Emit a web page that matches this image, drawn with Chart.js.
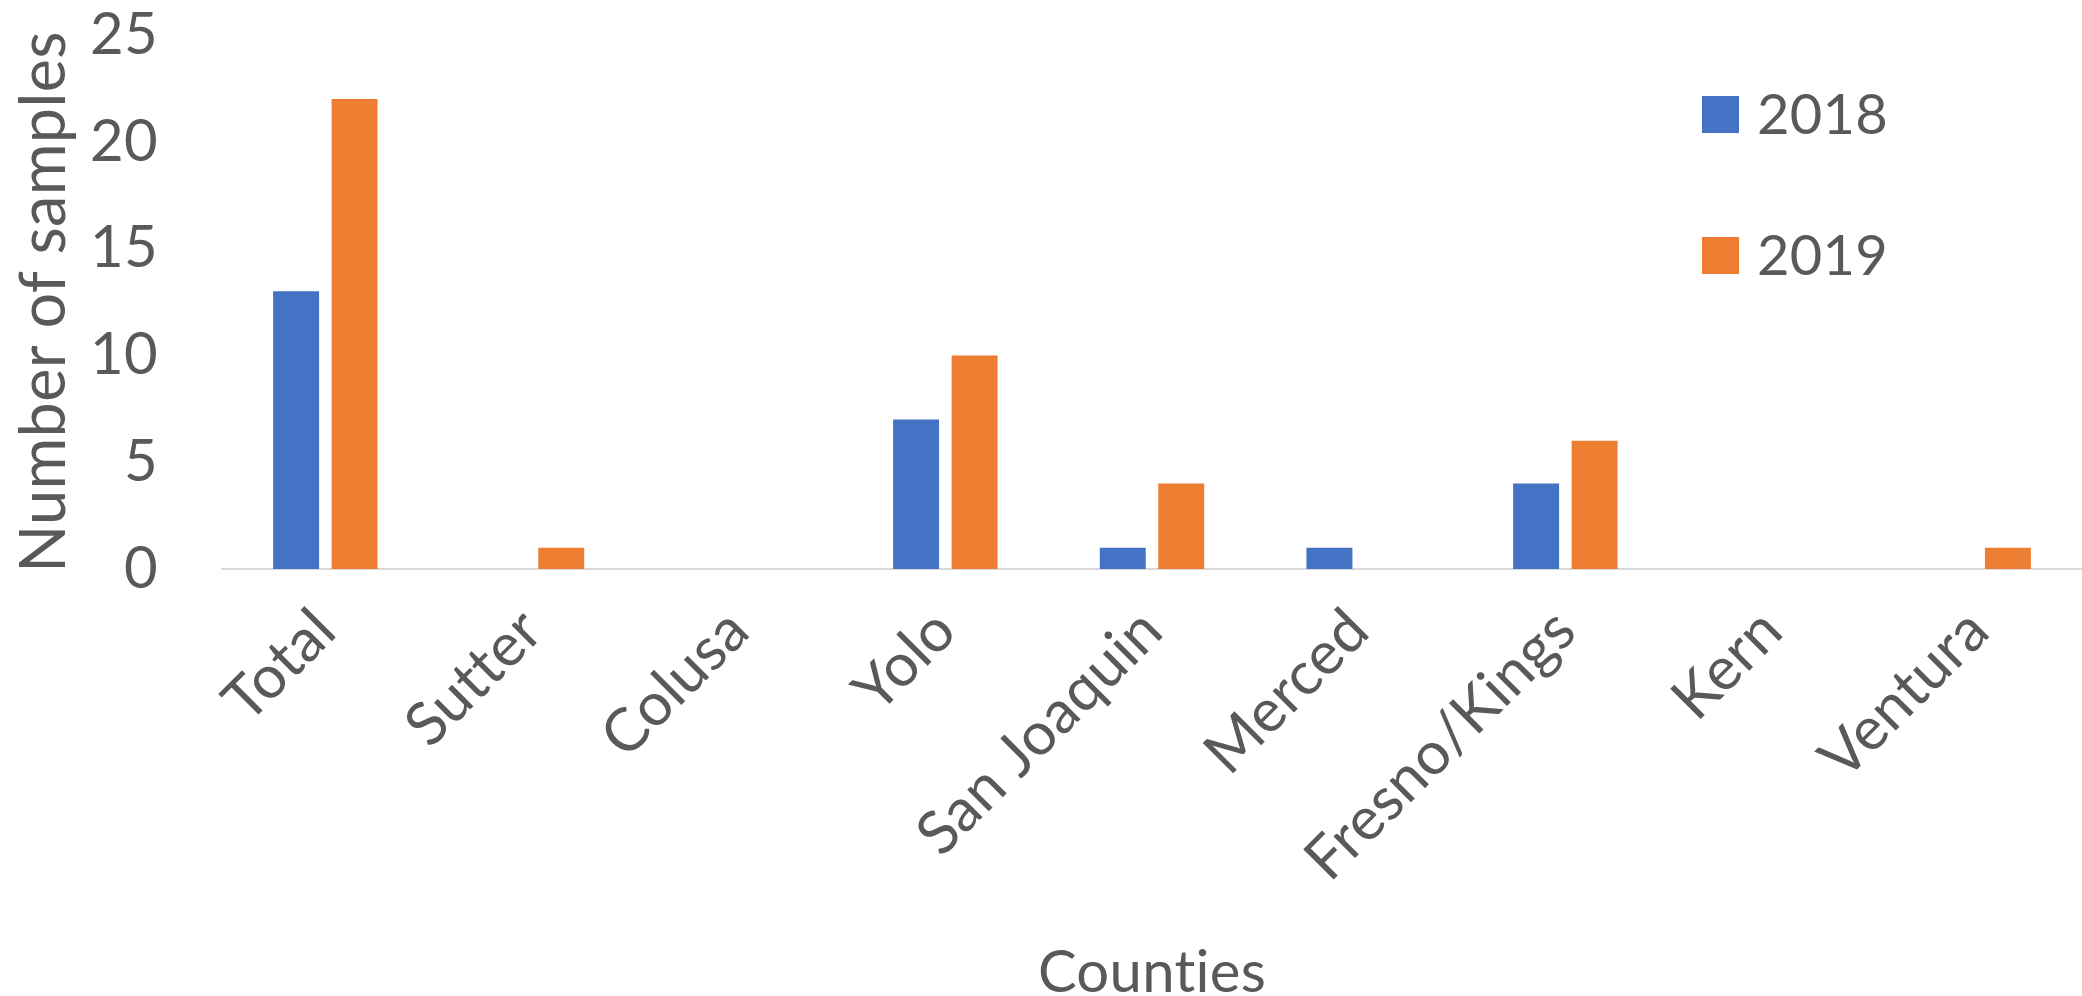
<!DOCTYPE html>
<html>
<head>
<meta charset="utf-8">
<script src="https://cdn.jsdelivr.net/npm/chart.js@4/dist/chart.umd.min.js"></script>
<style>
  html, body { margin: 0; padding: 0; background: #fff; }
  #wrap { width: 2082px; height: 996px; }
</style>
</head>
<body>
<div id="wrap"><canvas id="chart" width="2082" height="996"></canvas></div>
<script>
// Datos
const counties = ['Total', 'Sutter', 'Colusa', 'Yolo', 'San Joaquin', 'Merced', 'Fresno/Kings', 'Kern', 'Ventura'];
const samples2018 = [13, 0, 0, 7, 1, 1, 4, 0, 0];
const samples2019 = [22, 1, 0, 10, 4, 0, 6, 0, 1];
const yTicks = [0, 5, 10, 15, 20, 25];

const textColor = '#595959';
const fontFamily = 'Lato, "Open Sans", sans-serif';

// Evitar ligaduras (p. ej. "ti") con un espaciado mínimo
const noLigatures = {
    id: 'noLigatures',
    beforeDraw(chart) {
        if ('letterSpacing' in chart.ctx) chart.ctx.letterSpacing = '0.3px';
    }
};

// Leyenda dibujada dentro del área del gráfico (arriba a la derecha)
const insideLegend = {
    id: 'insideLegend',
    afterDraw(chart) {
        const ctx = chart.ctx;
        const rows = [114, 255];
        ctx.save();
        ctx.font = '56px ' + fontFamily;
        ctx.textBaseline = 'middle';
        ctx.textAlign = 'left';
        chart.data.datasets.forEach((ds, i) => {
            ctx.fillStyle = ds.backgroundColor;
            ctx.fillRect(1702, rows[i] - 18, 37, 37);
            ctx.fillStyle = textColor;
            ctx.fillText(ds.label, 1757, rows[i] + 2);
        });
        ctx.restore();
    }
};

new Chart(document.getElementById('chart').getContext('2d'), {
    type: 'bar',
    data: {
        labels: counties,
        datasets: [
            { label: '2018', data: samples2018, backgroundColor: '#4472C4' },
            { label: '2019', data: samples2019, backgroundColor: '#ED7D31' }
        ]
    },
    options: {
        responsive: false,
        animation: false,
        layout: { padding: { top: 35, right: 0, bottom: 0, left: 0 } },
        datasets: {
            bar: { categoryPercentage: 0.566, barPercentage: 0.786 }
        },
        plugins: {
            legend: { display: false },
            tooltip: { enabled: false }
        },
        scales: {
            x: {
                grid: { display: false, drawTicks: false },
                border: { display: true, color: '#D9D9D9', width: 2 },
                ticks: {
                    color: textColor,
                    font: { family: fontFamily, size: 60 },
                    maxRotation: 45,
                    minRotation: 45,
                    padding: 26,
                    autoSkip: false
                },
                title: {
                    display: true,
                    text: 'Counties',
                    color: textColor,
                    font: { family: fontFamily, size: 58, lineHeight: 1 },
                    padding: { top: 0, bottom: -6 }
                },
                afterFit(scale) {
                    scale.height = 427;
                    scale.paddingLeft = 0;
                    scale.paddingRight = 0;
                }
            },
            y: {
                min: 0,
                max: 25,
                grid: { display: false, drawTicks: false },
                border: { display: false },
                afterBuildTicks(scale) { scale.ticks = yTicks.map(v => ({ value: v })); },
                ticks: {
                    color: textColor,
                    font: { family: fontFamily, size: 58 },
                    padding: 64
                },
                title: {
                    display: true,
                    text: 'Number of samples',
                    color: textColor,
                    font: { family: fontFamily, size: 63, lineHeight: 1 },
                    padding: { top: 13, bottom: 0 }
                },
                afterFit(scale) {
                    scale.width = 222;
                    scale.paddingTop = 0;
                    scale.paddingBottom = 0;
                }
            }
        }
    },
    plugins: [noLigatures, insideLegend]
});
</script>
</body>
</html>
